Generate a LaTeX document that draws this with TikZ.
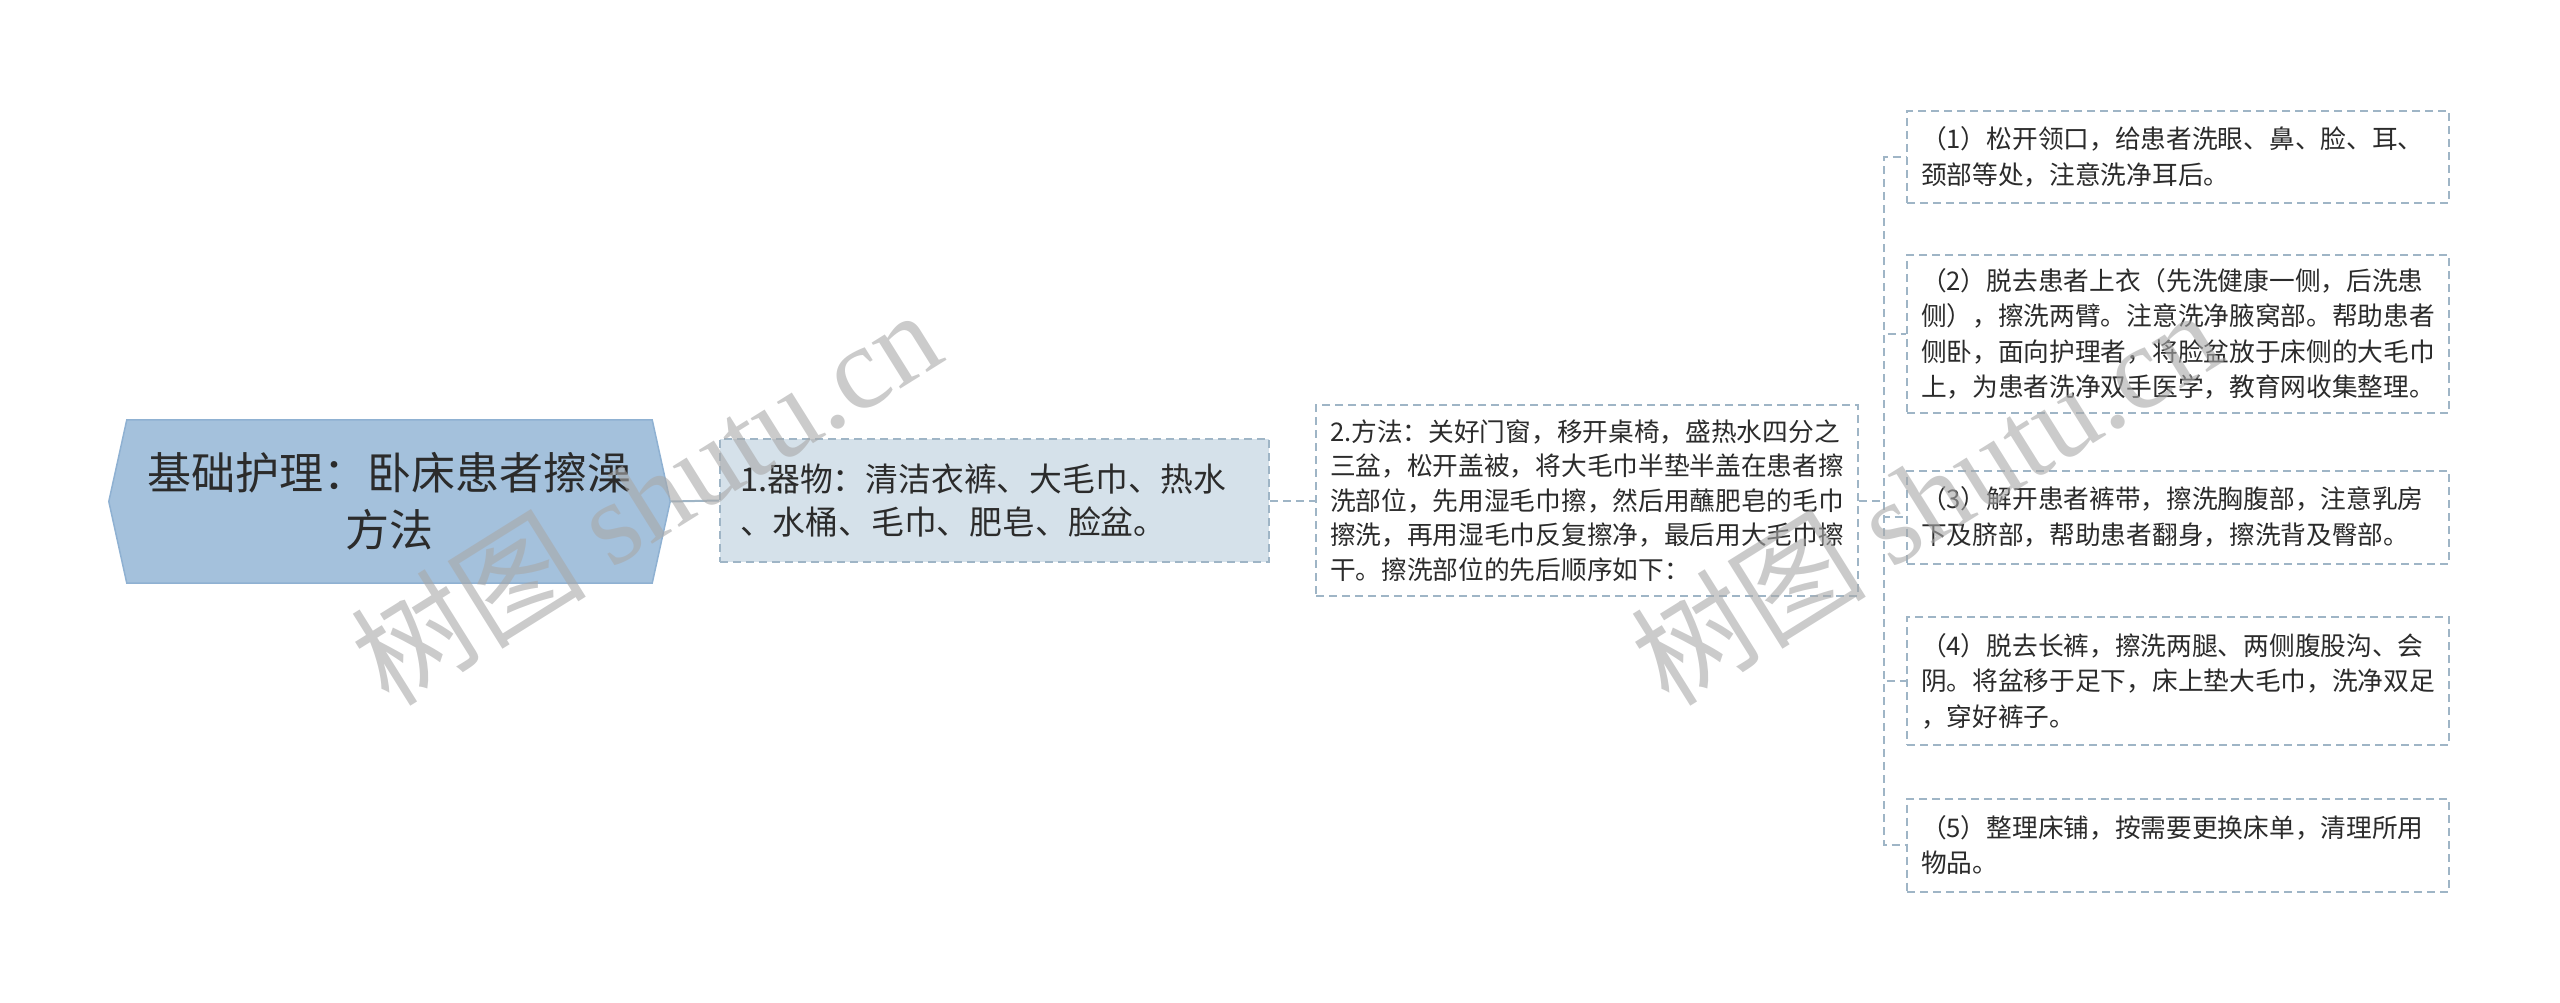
\documentclass[tikz,border=0pt]{standalone}
\usepackage{fontspec}
\setmainfont{Noto Sans CJK SC}
\newfontfamily\wmserif{Liberation Serif}
\usetikzlibrary{backgrounds}
\definecolor{rootfill}{HTML}{A4C1DC}
\definecolor{rootline}{HTML}{8FB1D2}
\definecolor{nonefill}{HTML}{D5E1EA}
\definecolor{boxline}{HTML}{9FB5C6}
\definecolor{txt}{HTML}{2B2B2B}
\definecolor{wmcol}{HTML}{A8A8A8}
\begin{document}
\begin{tikzpicture}[x=1pt,y=-1pt,
  dashline/.style={draw=boxline,line width=2pt,dash pattern=on 8pt off 5pt},
  rootbox/.style={minimum width=561pt,minimum height=163pt,inner sep=0pt,align=center,text=txt,font=\fontsize{44}{57}\selectfont},
  firstbox/.style={dashline,fill=nonefill,minimum height=123pt,text width=509pt,inner xsep=20pt,inner ysep=0pt,align=left,text=txt,font=\fontsize{32.8}{42.5}\selectfont},
  textbox/.style={dashline,fill=white,text width=514pt,inner xsep=14pt,inner ysep=0pt,align=left,text=txt,font=\fontsize{25.7}{35.4}\selectfont},
  solidlink/.style={draw=boxline,line width=2pt},
  dashlink/.style={dashline},
  wmark/.style={text=wmcol,opacity=0.6,rotate=32,inner sep=0pt,font=\fontsize{118}{118}\selectfont}
]
\useasboundingbox (0,0) rectangle (2560,1003);

\node[rootbox] (root) at (389.5,501.5) {基础护理：卧床患者擦澡\\方法};
\begin{scope}[on background layer]
\filldraw[fill=rootfill,draw=rootline,line width=1.5pt]
  ([xshift=18pt]root.north west) -- ([xshift=-18pt]root.north east) -- (root.east)
  -- ([xshift=-18pt]root.south east) -- ([xshift=18pt]root.south west) -- (root.west) -- cycle;
\end{scope}

\node[firstbox] (n1) at (994.5,500.5) {1.器物：清洁衣裤、大毛巾、热水\\、水桶、毛巾、肥皂、脸盆。};

\node[textbox,minimum height=191pt,font=\fontsize{25.7}{34.4}\selectfont] (n2) at (1587,500.5) {2.方法：关好门窗，移开桌椅，盛热水四分之\\三盆，松开盖被，将大毛巾半垫半盖在患者擦\\洗部位，先用湿毛巾擦，然后用蘸肥皂的毛巾\\擦洗，再用湿毛巾反复擦净，最后用大毛巾擦\\干。擦洗部位的先后顺序如下：};

\node[textbox,minimum height=92pt] (c1) at (2178,157) {（1）松开领口，给患者洗眼、鼻、脸、耳、\\颈部等处，注意洗净耳后。};
\node[textbox,minimum height=158pt] (c2) at (2178,334) {（2）脱去患者上衣（先洗健康一侧，后洗患\\侧），擦洗两臂。注意洗净腋窝部。帮助患者\\侧卧，面向护理者，将脸盆放于床侧的大毛巾\\上，为患者洗净双手医学，教育网收集整理。};
\node[textbox,minimum height=93pt] (c3) at (2178,517) {（3）解开患者裤带，擦洗胸腹部，注意乳房\\下及脐部，帮助患者翻身，擦洗背及臀部。};
\node[textbox,minimum height=128pt] (c4) at (2178,681) {（4）脱去长裤，擦洗两腿、两侧腹股沟、会\\阴。将盆移于足下，床上垫大毛巾，洗净双足\\，穿好裤子。};
\node[textbox,minimum height=93pt] (c5) at (2178,845) {（5）整理床铺，按需要更换床单，清理所用\\物品。};

\draw[solidlink] (root.east) -- (n1.west);
\draw[dashlink] (n1.east) -- (n2.west);
\foreach \c in {c1,c2,c3,c4,c5}{
  \draw[dashlink] (n2.east) -- ++(24.5,0) |- (\c.west);
}

\node[wmark] (wm1) at (645,496) {树图 {\wmserif shutu.cn}};
\node[wmark] (wm2) at (1925,496) {树图 {\wmserif shutu.cn}};
\end{tikzpicture}
\end{document}
